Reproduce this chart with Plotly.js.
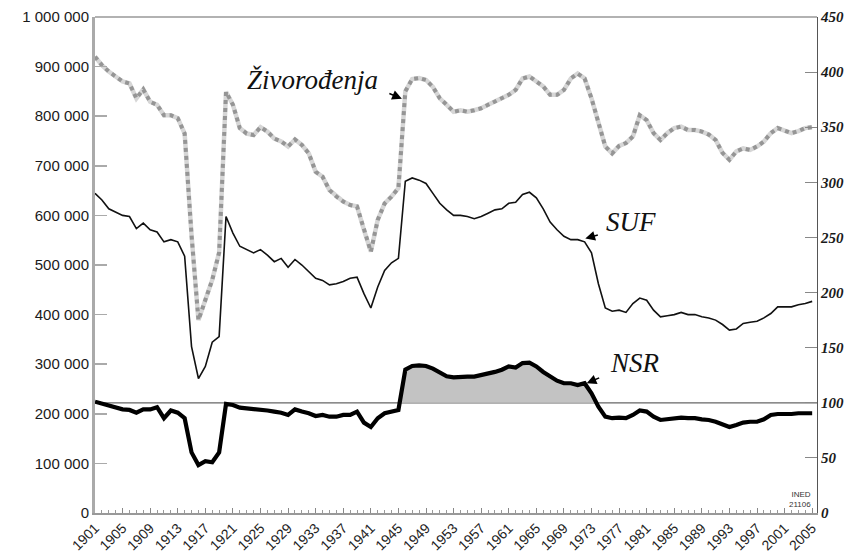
<!DOCTYPE html>
<html>
<head>
<meta charset="utf-8">
<script src="https://cdn.plot.ly/plotly-3.0.1.min.js"></script>
<style>html,body{margin:0;padding:0;background:#fff;}#chart{width:845px;height:553px;}</style>
</head>
<body>
<div id="chart"></div>
<script>
const years = [1901,1902,1903,1904,1905,1906,1907,1908,1909,1910,1911,1912,1913,1914,1915,1916,1917,1918,1919,1920,
1921,1922,1923,1924,1925,1926,1927,1928,1929,1930,1931,1932,1933,1934,1935,1936,1937,1938,1939,1940,
1941,1942,1943,1944,1945,1946,1947,1948,1949,1950,1951,1952,1953,1954,1955,1956,1957,1958,1959,1960,
1961,1962,1963,1964,1965,1966,1967,1968,1969,1970,1971,1972,1973,1974,1975,1976,1977,1978,1979,1980,
1981,1982,1983,1984,1985,1986,1987,1988,1989,1990,1991,1992,1993,1994,1995,1996,1997,1998,1999,2000,
2001,2002,2003,2004,2005];

// Živorođenja (live births), left axis
const births = [920000,903000,890000,880000,870000,866000,836000,854000,829000,823000,802000,802000,796000,765000,560000,389000,430000,470000,525000,849000,
823000,776000,765000,762000,778000,769000,755000,749000,739000,753000,742000,725000,688000,678000,651000,638000,628000,621000,618000,571000,
527000,591000,624000,638000,655000,850000,875000,877000,873000,859000,836000,823000,809000,812000,809000,812000,816000,823000,829000,836000,
843000,853000,876000,880000,870000,860000,843000,843000,853000,876000,886000,876000,836000,786000,739000,725000,740000,746000,759000,802000,
792000,766000,752000,766000,776000,779000,772000,772000,769000,763000,752000,726000,712000,729000,735000,732000,739000,749000,766000,776000,
772000,766000,770000,776000,778000];

// SUF, right axis
const suf = [290,284,276,273,270,269,258,263,257,255,246,248,246,233,151,122,133,155,160,269,
254,242,239,236,239,234,228,231,223,230,225,219,213,211,207,208,210,213,214,199,
186,205,220,227,231,301,304,302,299,290,281,275,270,270,269,267,269,272,275,276,
281,282,289,291,286,276,264,257,251,248,248,246,236,208,186,183,184,182,190,195,
193,184,178,179,180,182,180,180,178,177,175,171,166,167,172,173,174,177,181,187,
187,187,189,190,192];

// NSR, right axis
const nsr = [101,99,97,95,94,93.5,91,94,94,96,86,93,91,86,55,43.5,47,46,55,99,
98,95.6,95,95,94,93,92,91,89,94,92,90.5,88,89,87.4,87.4,89,89,92,82,
78,86,90.5,92,93.5,130,133.4,134,133.4,131,127,124,123,123.7,123.7,123.7,125,126,128,130,
133,132,136,136.4,133,128,123.7,120,117.7,117.7,116,117.7,108.6,96.5,87.4,86,86.5,86,89,93,
92,87.4,84.4,85,86,86.5,86,86,85,84.4,82.8,80.7,78,79.8,82,82.8,82.8,85,89,89.8,
89.5,89.8,90.5,90.5,90.5];

const refLevel = 100;

// fill polygon: NSR above the 100 line, with interpolated crossings
const fx = [], fy = [];
for (let i = 0; i < years.length; i++) {
  if (i > 0) {
    const a = nsr[i-1] - refLevel, b = nsr[i] - refLevel;
    if ((a < 0 && b > 0) || (a > 0 && b < 0)) {
      const t = a / (a - b);
      fx.push(years[i-1] + t * (years[i] - years[i-1]));
      fy.push(refLevel);
    }
  }
  fx.push(years[i]);
  fy.push(Math.max(nsr[i], refLevel));
}
fx.push(years[years.length-1], years[0]);
fy.push(refLevel, refLevel);

const traces = [
  {x: fx, y: fy, yaxis: 'y2', type: 'scatter', mode: 'lines', fill: 'toself',
   fillcolor: '#c3c3c3', line: {width: 0, color: 'rgba(0,0,0,0)'}, hoverinfo: 'skip'},
  {x: years, y: births, type: 'scatter', mode: 'lines', line: {color: '#d6d6d6', width: 4.5}},
  {x: years, y: births, type: 'scatter', mode: 'lines', line: {color: '#959595', width: 4, dash: 'dot'}},
  {x: years, y: suf, yaxis: 'y2', type: 'scatter', mode: 'lines', line: {color: '#111', width: 1.6}},
  {x: years, y: nsr, yaxis: 'y2', type: 'scatter', mode: 'lines', line: {color: '#000', width: 4.2}}
];

const serifItal = {family: 'Liberation Serif, Times New Roman, serif', size: 27, color: '#111', style: 'italic'};

const layout = {
  width: 845, height: 553,
  margin: {l: 95, r: 28, t: 17, b: 40},
  paper_bgcolor: '#fff', plot_bgcolor: '#fff',
  showlegend: false,
  separators: ', ',
  xaxis: {
    range: [1901, 2005.7], tick0: 1901, dtick: 4, tickangle: -45,
    ticks: 'inside', ticklen: 5, tickcolor: '#888',
    minor: {dtick: 1, ticks: 'inside', ticklen: 3, tickcolor: '#999'},
    showgrid: false, zeroline: false,
    showline: true, linecolor: '#999', linewidth: 1.5,
    tickfont: {family: 'Liberation Sans Narrow, Liberation Sans, Arial, sans-serif', size: 14, color: '#222'}
  },
  yaxis: {
    range: [0, 1000000], dtick: 100000, tickformat: ',d',
    ticks: 'inside', ticklen: 12, tickcolor: '#aaa', tickwidth: 1.5,
    showgrid: false, zeroline: false,
    showline: true, linecolor: '#aaa', linewidth: 3,
    tickfont: {family: 'Liberation Sans, Arial, sans-serif', size: 15, color: '#1a1a1a'}
  },
  yaxis2: {
    range: [0, 450], dtick: 50, overlaying: 'y', side: 'right',
    ticks: 'inside', ticklen: 12, tickcolor: '#888',
    showgrid: false, zeroline: false,
    showline: true, linecolor: '#555', linewidth: 1,
    tickfont: {family: 'Liberation Serif, Times New Roman, serif', size: 15, color: '#1a1a1a', weight: 'bold', style: 'italic'}
  },
  shapes: [
    {type: 'line', xref: 'paper', yref: 'y2', x0: 0, x1: 1, y0: refLevel, y1: refLevel,
     line: {color: '#666', width: 1.2}, layer: 'below'},
    {type: 'line', xref: 'paper', yref: 'paper', x0: 0, x1: 1, y0: 1, y1: 1,
     line: {color: '#999', width: 1.5}}
  ],
  annotations: [
    {x: 1932.5, y: 873000, xref: 'x', yref: 'y', text: 'Živorođenja', showarrow: false, font: serifItal},
    {x: 1945.5, y: 835000, xref: 'x', yref: 'y', text: '', showarrow: true,
     ax: -14, ay: -6, arrowhead: 2, arrowsize: 1.3, arrowwidth: 1.5, arrowcolor: '#000'},
    {x: 1978.7, y: 264, xref: 'x', yref: 'y2', text: 'SUF', showarrow: false, font: serifItal},
    {x: 1972.1, y: 249, xref: 'x', yref: 'y2', text: '', showarrow: true,
     ax: 14, ay: -4, arrowhead: 2, arrowsize: 1.3, arrowwidth: 1.5, arrowcolor: '#000'},
    {x: 1979.3, y: 135.8, xref: 'x', yref: 'y2', text: 'NSR', showarrow: false, font: serifItal},
    {x: 1972.3, y: 117.7, xref: 'x', yref: 'y2', text: '', showarrow: true,
     ax: 14, ay: -6, arrowhead: 2, arrowsize: 1.3, arrowwidth: 1.5, arrowcolor: '#000'},
    {x: 0.994, y: 0.004, xref: 'paper', yref: 'paper', xanchor: 'right', yanchor: 'bottom',
     align: 'right', text: 'INED<br>21106', showarrow: false,
     font: {family: 'Liberation Sans Narrow, Liberation Sans, sans-serif', size: 8, color: '#333'}}
  ]
};

Plotly.newPlot('chart', traces, layout, {displayModeBar: false, staticPlot: true});
</script>
</body>
</html>
